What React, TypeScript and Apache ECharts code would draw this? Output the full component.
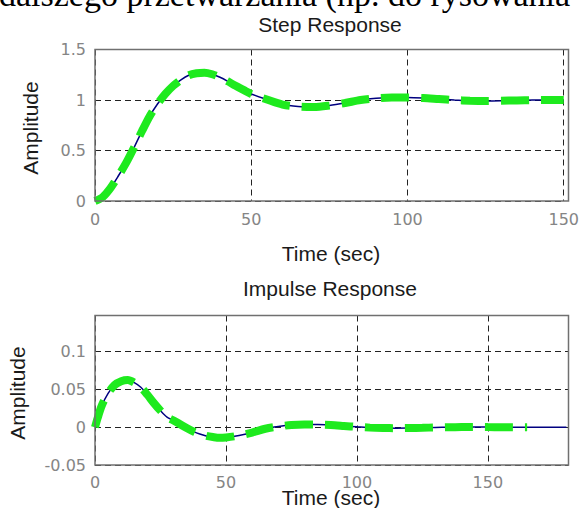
import { useEffect, useRef } from 'react';
import * as echarts from 'echarts';

// ---- Data ----
const stepTime = [0, 2.5, 5, 7.5, 10, 12.5, 15, 17.5, 20, 22.5, 25, 27.5, 30, 32.5, 35, 37.5, 40, 42.5, 45, 47.5, 50, 55, 60, 65, 70, 75, 80, 85, 90, 95, 100, 105, 110, 115, 120, 125, 130, 135, 140, 145, 150];
const stepAmplitude = [0, 0.04, 0.13, 0.25, 0.38, 0.53, 0.69, 0.84, 0.96, 1.06, 1.14, 1.2, 1.245, 1.265, 1.27, 1.255, 1.225, 1.185, 1.14, 1.1, 1.06, 1.005, 0.955, 0.935, 0.93, 0.945, 0.97, 1.0, 1.017, 1.025, 1.025, 1.02, 1.01, 1.0, 0.993, 0.99, 0.992, 0.996, 0.999, 1.001, 1.0];

const impulseTime = [0, 1, 2.5, 5, 7.5, 10, 12.5, 15, 17.5, 20, 22.5, 25, 27.5, 30, 32.5, 35, 37.5, 40, 42.5, 45, 47.5, 50, 55, 60, 65, 70, 75, 80, 85, 90, 95, 100, 105, 110, 115, 120, 125, 130, 135, 140, 145, 150, 155, 160, 165, 170, 175, 180];
const impulseAmplitude = [0, 0.012, 0.028, 0.045, 0.056, 0.061, 0.0625, 0.059, 0.053, 0.043, 0.032, 0.022, 0.0135, 0.009, 0.004, -0.001, -0.0055, -0.009, -0.0115, -0.013, -0.014, -0.0135, -0.011, -0.007, -0.002, 0.001, 0.003, 0.0036, 0.0035, 0.003, 0.0018, 0.0005, -0.0005, -0.001, -0.0012, -0.001, -0.0007, -0.0003, 0, 0.0002, 0.0003, 0.0002, 0.0001, 0, 0, 0, 0, 0];

const stepGreenEnd = 150;
const impulseGreenEnd = 165;

const stepXRange = [0, 150];
const stepYRange = [0, 1.5];
const impulseXRange = [0, 180.8];
const impulseYRange = [-0.05, 0.148];
const stepXInterval = 50;
const stepYInterval = 0.5;
const impulseXInterval = 50;
const impulseYInterval = 0.05;

const headerText = 'dalszego przetwarzania (np. do rysowania';
const stepTitle = 'Step Response';
const impulseTitle = 'Impulse Response';
const yName = 'Amplitude';
const xName = 'Time (sec)';

// ---- Layout ----
const G1 = { left: 95, top: 49.5, width: 473.5, height: 151.5 };
const G2 = { left: 95, top: 315.5, width: 473.5, height: 149.5 };

const SANS = '"Liberation Sans", Arial, sans-serif';
const TICKFONT = '"DejaVu Sans", sans-serif';
const BLUE = '#000080';
const GREEN = '#1eea1e';

function fmt(v: number) {
  const r = Math.round(v * 1000) / 1000;
  return r === 0 ? '0' : String(r);
}

export default function App() {
  const ref = useRef<HTMLDivElement>(null);
  useEffect(() => {
    if (!ref.current) return;
    const chart = echarts.init(ref.current, undefined, { renderer: 'svg' });

    const stepPairs = stepTime.map((t, i) => [t, stepAmplitude[i]]);
    const stepGreen = stepPairs.filter((p) => p[0] <= stepGreenEnd);
    const impPairs = impulseTime.map((t, i) => [t, impulseAmplitude[i]]);
    const impGreen = impPairs.filter((p) => p[0] <= impulseGreenEnd);

    const splitLine = { show: true, lineStyle: { color: '#222', width: 1, type: [6, 4] as number[] } };
    const axisLabel = (margin: number) => ({
      color: '#858585',
      fontSize: 16,
      fontFamily: TICKFONT,
      margin,
      showMaxLabel: false,
      formatter: (v: number) => fmt(v),
    });
    const axisLabelY = (margin: number) => ({
      color: '#858585',
      fontSize: 16,
      fontFamily: TICKFONT,
      margin,
      formatter: (v: number) => fmt(v),
    });

    const text = (t: string, x: number, y: number, size: number, rotation = 0, fill = '#1a1a1a') => ({
      type: 'text',
      x,
      y,
      rotation,
      z: 120,
      style: { text: t, fill, font: `${size}px ${SANS}`, align: 'center', verticalAlign: 'middle' },
    });

    chart.setOption({
      animation: false,
      backgroundColor: '#ffffff',
      grid: [
        { ...G1, containLabel: false },
        { ...G2, containLabel: false },
      ],
      xAxis: [
        {
          type: 'value', gridIndex: 0, min: stepXRange[0], max: stepXRange[1], interval: stepXInterval,
          axisLine: { show: false }, axisTick: { show: false }, splitLine,
          axisLabel: { ...axisLabel(10), showMaxLabel: true },
        },
        {
          type: 'value', gridIndex: 1, min: impulseXRange[0], max: impulseXRange[1], interval: impulseXInterval,
          axisLine: { show: false }, axisTick: { show: false }, splitLine,
          axisLabel: axisLabel(9),
        },
      ],
      yAxis: [
        {
          type: 'value', gridIndex: 0, min: stepYRange[0], max: stepYRange[1], interval: stepYInterval,
          axisLine: { show: false }, axisTick: { show: false }, splitLine,
          axisLabel: axisLabelY(9),
        },
        {
          type: 'value', gridIndex: 1, min: impulseYRange[0], max: impulseYRange[1], interval: impulseYInterval,
          axisLine: { show: false }, axisTick: { show: false }, splitLine,
          axisLabel: { ...axisLabelY(9), showMaxLabel: false },
        },
      ],
      series: [
        {
          type: 'line', xAxisIndex: 0, yAxisIndex: 0, data: stepPairs, smooth: 0.3, showSymbol: false,
          lineStyle: { color: BLUE, width: 1.5 }, z: 3,
        },
        {
          type: 'line', xAxisIndex: 0, yAxisIndex: 0, data: stepGreen, smooth: 0.3, showSymbol: false,
          lineStyle: { color: GREEN, width: 8, type: [28, 12], cap: 'butt' }, z: 4,
        },
        {
          type: 'line', xAxisIndex: 1, yAxisIndex: 1, data: impPairs, smooth: 0.3, showSymbol: false,
          lineStyle: { color: BLUE, width: 1.5 }, z: 3,
        },
        {
          type: 'line', xAxisIndex: 1, yAxisIndex: 1, data: impGreen, smooth: 0.3, showSymbol: false,
          lineStyle: { color: GREEN, width: 8, type: [28, 12], cap: 'butt' }, z: 4,
        },
      ],
      graphic: [
        {
          type: 'rect', z: 110, silent: true,
          shape: { x: G1.left, y: G1.top, width: G1.width, height: G1.height },
          style: { fill: 'none', stroke: '#707070', lineWidth: 1.5 },
        },
        {
          type: 'rect', z: 110, silent: true,
          shape: { x: G2.left, y: G2.top, width: G2.width, height: G2.height },
          style: { fill: 'none', stroke: '#707070', lineWidth: 1.5 },
        },
        {
          type: 'text', x: -1, y: -5.5, z: 120,
          style: { text: headerText, fill: '#000', font: '34px "Liberation Serif", "Times New Roman", serif', align: 'left', verticalAlign: 'middle' },
        },
        text(stepTitle, 330, 24, 21),
        text(impulseTitle, 330, 288, 21),
        text(yName, 30, 128, 21, Math.PI / 2),
        text(yName, 17, 393, 21, Math.PI / 2),
        text(xName, 331, 253, 21),
        text(xName, 331, 497.5, 21),
      ],
    });
    return () => chart.dispose();
  }, []);
  return <div ref={ref} style={{ position: 'fixed', left: 0, top: 0, width: 582, height: 508, background: '#fff' }} />;
}
